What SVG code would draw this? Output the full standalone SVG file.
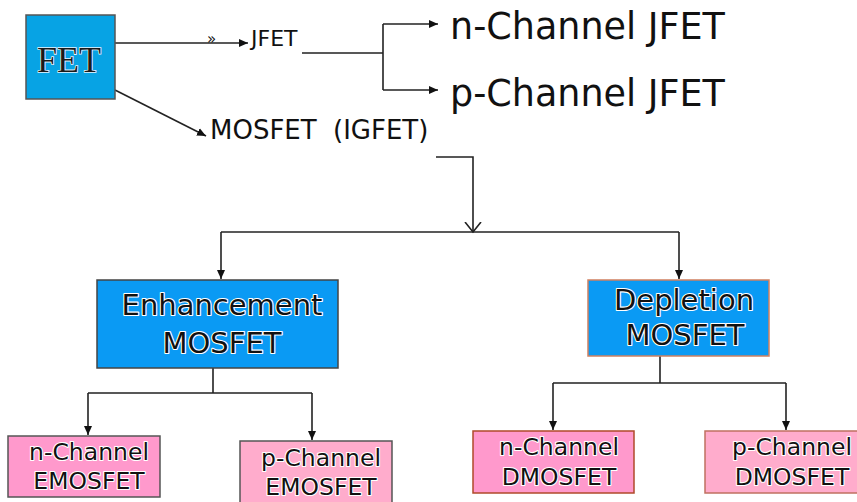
<svg xmlns="http://www.w3.org/2000/svg" width="857" height="502" viewBox="0 0 857 502">
<style>
.t{font-family:"DejaVu Sans",Verdana,sans-serif;fill:#111}
.bt{font-family:"DejaVu Sans",Verdana,sans-serif;fill:#111;stroke:#fff;stroke-width:2.2;paint-order:stroke;stroke-linejoin:round}
.c{fill:none;stroke:#222;stroke-width:1.6}
.blue{fill:#0a9af4;stroke:#444;stroke-width:1.5}
</style>
<defs>
<marker id="a" markerWidth="10" markerHeight="10" refX="9" refY="5" orient="auto" markerUnits="userSpaceOnUse">
<path d="M0,1 L9,5 L0,9 Z" fill="#111"/>
</marker>
<marker id="v" markerWidth="20" markerHeight="20" refX="10" refY="10" orient="auto" markerUnits="userSpaceOnUse">
<path d="M0,2 L10,10 L0,18" fill="none" stroke="#222" stroke-width="1.6"/>
</marker>
</defs>
<rect width="857" height="502" fill="#fff"/>
<g id="connectors">
<line class="c" x1="115" y1="43" x2="248" y2="43" marker-end="url(#a)"/>
<line class="c" x1="115" y1="90" x2="206" y2="136" marker-end="url(#a)"/>
<path class="c" d="M302,53 H383 M383,24 V90"/>
<line class="c" x1="383" y1="24" x2="438" y2="24" marker-end="url(#a)"/>
<line class="c" x1="383" y1="90" x2="438" y2="90" marker-end="url(#a)"/>
<path class="c" d="M436,157 H473 V232" marker-end="url(#v)"/>
<path class="c" d="M221,232 H679"/>
<line class="c" x1="221" y1="232" x2="221" y2="279" marker-end="url(#a)"/>
<line class="c" x1="679" y1="232" x2="679" y2="279" marker-end="url(#a)"/>
<path class="c" d="M213,368 V393 M88,393 H312"/>
<line class="c" x1="88" y1="393" x2="88" y2="435" marker-end="url(#a)"/>
<line class="c" x1="312" y1="393" x2="312" y2="440" marker-end="url(#a)"/>
<path class="c" d="M660,356 V383 M553,383 H786"/>
<line class="c" x1="553" y1="383" x2="553" y2="430" marker-end="url(#a)"/>
<line class="c" x1="786" y1="383" x2="786" y2="430" marker-end="url(#a)"/>
</g>
<g id="fet">
<rect x="26" y="15" width="89" height="84" fill="#07a3e4" stroke="#555" stroke-width="1.5"/>
<text x="69" y="72" text-anchor="middle" font-family="Liberation Serif,serif" font-size="36" fill="#1a1a1a" stroke="#e8f4ff" stroke-width="1.6" paint-order="stroke">FET</text>
</g>
<g id="jfet">
<text class="t" x="207" y="44" font-size="15">»</text>
<text class="t" x="251" y="46" font-size="22">JFET</text>
</g>
<g id="n-jfet"><text class="t" x="450" y="39" font-size="36.5">n-Channel JFET</text></g>
<g id="p-jfet"><text class="t" x="450" y="106" font-size="36.5">p-Channel JFET</text></g>
<g id="mosfet">
<text class="t" x="210" y="139" font-size="26">MOSFET</text>
<text class="t" x="333" y="139" font-size="26">(IGFET)</text>
</g>
<g id="enhancement">
<rect class="blue" x="97" y="280" width="241" height="88"/>
<text class="bt" x="222" y="315" font-size="29" text-anchor="middle">Enhancement</text>
<text class="bt" x="222" y="353" font-size="29" text-anchor="middle">MOSFET</text>
</g>
<g id="depletion">
<rect x="588" y="280" width="181" height="76" fill="#0a9af4" stroke="#d08060" stroke-width="1.5"/>
<text class="bt" x="684" y="310" font-size="29" text-anchor="middle">Depletion</text>
<text class="bt" x="685" y="345" font-size="29" text-anchor="middle">MOSFET</text>
</g>
<g id="n-emosfet">
<rect x="8" y="436" width="152" height="61" fill="#ff99cc" stroke="#555" stroke-width="1.5"/>
<text class="bt" x="89" y="460" font-size="23.5" text-anchor="middle">n-Channel</text>
<text class="bt" x="89" y="489" font-size="23.5" text-anchor="middle">EMOSFET</text>
</g>
<g id="p-emosfet">
<rect x="240" y="441" width="152" height="70" fill="#ffaccc" stroke="#555" stroke-width="1.5"/>
<text class="bt" x="321" y="466" font-size="23.5" text-anchor="middle">p-Channel</text>
<text class="bt" x="321" y="495" font-size="23.5" text-anchor="middle">EMOSFET</text>
</g>
<g id="n-dmosfet">
<rect x="473" y="431" width="161" height="62" fill="#ff99cc" stroke="#b04a2a" stroke-width="1.5"/>
<text class="bt" x="559" y="455" font-size="23.5" text-anchor="middle">n-Channel</text>
<text class="bt" x="559" y="485" font-size="23.5" text-anchor="middle">DMOSFET</text>
</g>
<g id="p-dmosfet">
<rect x="705" y="431" width="160" height="62" fill="#ffaccc" stroke="#c07060" stroke-width="1.5"/>
<text class="bt" x="792" y="455" font-size="23.5" text-anchor="middle">p-Channel</text>
<text class="bt" x="792" y="485" font-size="23.5" text-anchor="middle">DMOSFET</text>
</g>
</svg>
